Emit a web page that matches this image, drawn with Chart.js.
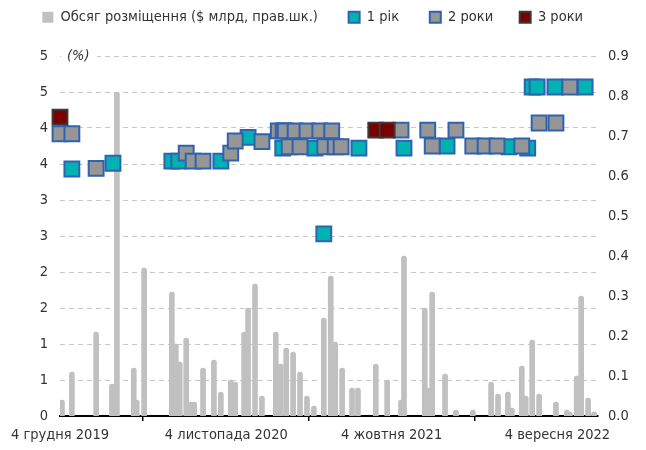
<!DOCTYPE html>
<html>
<head>
<meta charset="utf-8">
<script src="https://cdn.jsdelivr.net/npm/chart.js@4.4.1/dist/chart.umd.min.js"></script>
<style>
  html, body { margin: 0; padding: 0; background: #fff; }
</style>
</head>
<body>
<canvas id="chart" width="646" height="450"></canvas>
<script>
// обсяг розміщення, $ млрд (права шкала)
const volumeDates = ['2019-12-08', '2019-12-28', '2020-02-15', '2020-03-18', '2020-03-28', '2020-05-01', '2020-05-07', '2020-05-22',
    '2020-07-17', '2020-07-25', '2020-08-02', '2020-08-15', '2020-08-25', '2020-08-31', '2020-09-18', '2020-10-10', '2020-10-24',
    '2020-11-13', '2020-11-22', '2020-12-10', '2020-12-18', '2021-01-01', '2021-01-15', '2021-02-12', '2021-02-22', '2021-03-05',
    '2021-03-19', '2021-04-02', '2021-04-16', '2021-04-30', '2021-05-20', '2021-06-03', '2021-06-12', '2021-06-26', '2021-07-16',
    '2021-07-28', '2021-09-02', '2021-09-25', '2021-10-23', '2021-10-29', '2021-12-10', '2021-12-16', '2021-12-25', '2022-01-20',
    '2022-02-11', '2022-03-17', '2022-04-23', '2022-05-07', '2022-05-27', '2022-06-04', '2022-06-24', '2022-07-02', '2022-07-15',
    '2022-07-29', '2022-09-01', '2022-09-23', '2022-09-29', '2022-10-13', '2022-10-22', '2022-11-05', '2022-11-17']
const volumeValues = [0.04, 0.11, 0.21, 0.08, 0.81, 0.12, 0.04, 0.37,
    0.31, 0.18, 0.135, 0.195, 0.035, 0.035, 0.12, 0.14, 0.06,
    0.09, 0.085, 0.21, 0.27, 0.33, 0.05, 0.21, 0.13, 0.17,
    0.16, 0.11, 0.05, 0.025, 0.245, 0.35, 0.185, 0.12, 0.07,
    0.07, 0.13, 0.09, 0.04, 0.40, 0.27, 0.07, 0.31, 0.105,
    0.015, 0.015, 0.085, 0.055, 0.06, 0.02, 0.125, 0.05, 0.19,
    0.055, 0.035, 0.015, 0.01, 0.10, 0.30, 0.045, 0.01]

// дохідність, %
const oneYearDates = ['2019-12-28', '2020-03-20', '2020-07-17', '2020-07-31', '2020-10-24', '2020-12-18', '2021-02-26', '2021-05-02',
    '2021-05-20', '2021-07-30', '2021-10-29', '2022-01-24', '2022-05-29', '2022-07-06', '2022-07-15', '2022-07-25', '2022-08-30', '2022-10-30']
const oneYearRates = [3.43, 3.51, 3.54, 3.54, 3.54, 3.87, 3.72, 3.72,
    2.53, 3.72, 3.72, 3.75, 3.74, 3.72, 4.57, 4.57, 4.57, 4.57]

const twoYearDates = ['2019-12-04', '2019-12-28', '2020-02-15', '2020-08-15', '2020-08-29', '2020-09-18', '2020-11-13', '2020-11-22',
    '2021-01-15', '2021-02-17', '2021-02-27', '2021-03-03', '2021-03-11', '2021-03-23', '2021-04-02', '2021-04-16', '2021-05-12',
    '2021-05-22', '2021-06-05', '2021-06-12', '2021-06-24', '2021-10-23', '2021-12-16', '2021-12-25', '2022-02-11', '2022-03-17',
    '2022-04-11', '2022-05-05', '2022-06-24', '2022-07-29', '2022-09-01', '2022-09-29']
const twoYearRates = [3.92, 3.92, 3.44, 3.65, 3.54, 3.54, 3.65, 3.82,
    3.81, 3.96, 3.96, 3.96, 3.74, 3.96, 3.74, 3.96, 3.96,
    3.74, 3.96, 3.74, 3.74, 3.97, 3.97, 3.75, 3.97, 3.75,
    3.75, 3.75, 3.75, 4.07, 4.07, 4.57]

const threeYearDates = ['2019-12-04', '2021-09-02', '2021-09-25']
const threeYearRates = [4.15, 3.97, 3.97]

const tickDates = ['2019-12-04', '2020-11-04', '2021-10-04', '2022-09-04']
const tickLabels = ['4 грудня 2019', '4 листопада 2020', '4 жовтня 2021', '4 вересня 2022']
const axisStart = '2019-12-04'
const axisEnd = '2022-11-25'

const FONT = "'Liberation Sans Narrow', 'Arial Narrow', 'DejaVu Sans Condensed', sans-serif"
const FONT_SIZE = 14.5
const TEXT = '#333333'
// пробіли після підписів легенди (розрив між елементами)
const legendGaps = [5, 5, 4, 5]

function dayNum(s){
    const [y, m, d] = s.split('-').map(Number)
    const [y0, m0, d0] = axisStart.split('-').map(Number)
    return Math.round((Date.UTC(y, m - 1, d) - Date.UTC(y0, m0 - 1, d0)) / 86400000)
}

function toPoints(dates, values){
    return dates.map((d, i) => ({ x: dayNum(d), y: values[i] }))
}

const tickDays = tickDates.map(dayNum)

function markerSet(label, dates, rates, fill, border, order){
    return {
        type: 'scatter',
        label: label,
        data: toPoints(dates, rates),
        yAxisID: 'y',
        order: order,
        clip: false,
        pointStyle: 'rect',
        pointRadius: 10.5,
        pointHoverRadius: 10.5,
        backgroundColor: fill,
        borderColor: border,
        borderWidth: 2
    }
}

// підпис "(%)" над лівою шкалою, з розривом верхньої лінії сітки
const percentLabel = {
    id: 'percentLabel',
    beforeDatasetsDraw(chart){
        const ctx = chart.ctx
        const top = chart.scales.y.getPixelForValue(5)
        ctx.save()
        ctx.fillStyle = '#fff'
        ctx.fillRect(chart.chartArea.left + 1, top - 4, 36, 8)
        ctx.fillStyle = TEXT
        ctx.font = 'italic ' + FONT_SIZE + 'px ' + FONT
        ctx.textBaseline = 'middle'
        ctx.fillText('(%)', chart.chartArea.left + 7, top)
        ctx.restore()
    }
}

const legendHeight = {
    id: 'legendHeight',
    beforeInit(chart){
        const fit = chart.legend.fit
        chart.legend.fit = function(){
            fit.call(this)
            this.height = 56
        }
    }
}

new Chart(document.getElementById('chart'), {
    type: 'bar',
    data: {
        datasets: [
            {
                type: 'bar',
                label: 'Обсяг розміщення ($ млрд, прав.шк.)',
                data: toPoints(volumeDates, volumeValues),
                yAxisID: 'y2',
                order: 3,
                backgroundColor: '#c0c0c0',
                borderWidth: 0,
                borderRadius: { topLeft: 2.5, topRight: 2.5 },
                borderSkipped: 'start',
                barThickness: 5
            },
            markerSet('1 рік', oneYearDates, oneYearRates, '#00b2b2', '#2f63b0', 2),
            markerSet('2 роки', twoYearDates, twoYearRates, '#969696', '#2f63b0', 1),
            markerSet('3 роки', threeYearDates, threeYearRates, '#7b0000', '#3a3a3a', 0)
        ]
    },
    options: {
        responsive: false,
        animation: false,
        layout: { padding: 0 },
        plugins: {
            tooltip: { enabled: false },
            legend: {
                position: 'top',
                labels: {
                    color: TEXT,
                    font: { family: FONT, size: FONT_SIZE },
                    boxWidth: 11,
                    boxHeight: 11,
                    padding: 10,
                    sort: (a, b) => a.datasetIndex - b.datasetIndex,
                    generateLabels(chart){
                        const items = Chart.defaults.plugins.legend.labels.generateLabels(chart)
                        items.forEach(it => {
                            it.text = it.text + ' '.repeat(legendGaps[it.datasetIndex])
                            if (it.datasetIndex === 0) it.lineWidth = 0
                        })
                        return items
                    }
                }
            }
        },
        scales: {
            x: {
                type: 'linear',
                min: 0,
                max: dayNum(axisEnd),
                offset: false,
                afterBuildTicks: scale => { scale.ticks = tickDays.map(v => ({ value: v })) },
                afterFit: scale => { scale.height = 34 },
                ticks: {
                    autoSkip: false,
                    maxRotation: 0,
                    padding: 6,
                    color: TEXT,
                    font: { family: FONT, size: FONT_SIZE },
                    callback: (v, i) => tickLabels[i]
                },
                grid: { drawOnChartArea: false, drawTicks: true, tickLength: 5, color: '#000', lineWidth: 1.5 },
                border: { display: true, color: '#000', width: 2 }
            },
            y: {
                position: 'left',
                min: 0,
                max: 5,
                afterFit: scale => { scale.width = 60 },
                ticks: {
                    stepSize: 0.5,
                    padding: 12,
                    color: TEXT,
                    font: { family: FONT, size: FONT_SIZE },
                    callback: v => Math.round(v)
                },
                grid: {
                    drawTicks: false,
                    color: ctx => ctx.tick && ctx.tick.value === 0 ? 'rgba(0,0,0,0)' : '#c8c8c8',
                    lineWidth: 1
                },
                border: { display: false, dash: [5, 4] }
            },
            y2: {
                position: 'right',
                min: 0,
                max: 0.9,
                afterFit: scale => { scale.width = 48 },
                ticks: {
                    stepSize: 0.1,
                    padding: 10,
                    color: TEXT,
                    font: { family: FONT, size: FONT_SIZE },
                    callback: v => v.toFixed(1)
                },
                grid: { display: false, drawTicks: false },
                border: { display: false }
            }
        }
    },
    plugins: [percentLabel, legendHeight]
})
</script>
</body>
</html>
